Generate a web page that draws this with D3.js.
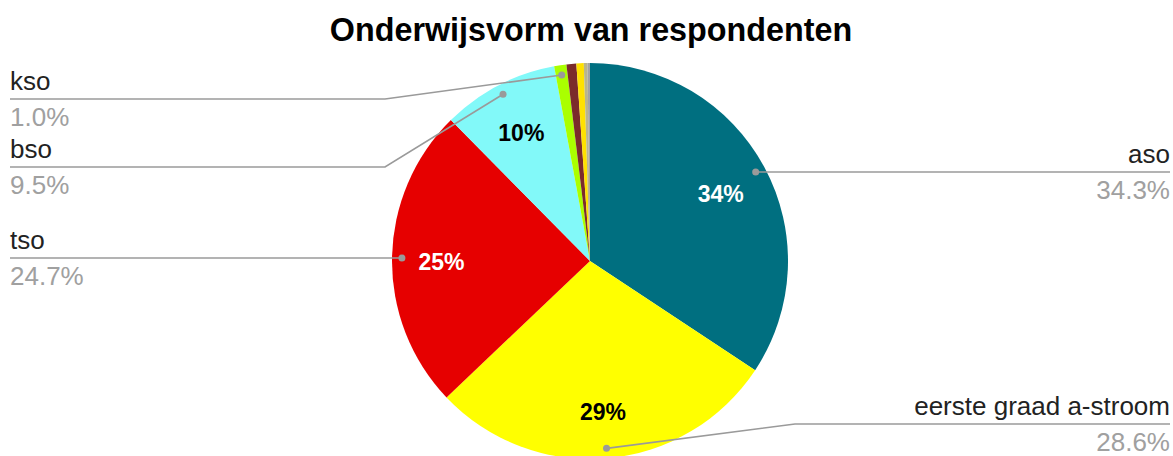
<!DOCTYPE html>
<html>
<head>
<meta charset="utf-8">
<script src="https://cdn.jsdelivr.net/npm/d3@7"></script>
<style>
  html, body { margin: 0; padding: 0; background: #fff; }
  svg { display: block; }
</style>
</head>
<body>
<svg id="chart" width="1173" height="456"></svg>
<script>
// ---- data ----
const title = "Onderwijsvorm van respondenten";
const categories = ["aso", "eerste graad a-stroom", "tso", "bso", "kso", "eerste graad b-stroom", "buso", "deeltijds", "andere"];
const values = [34.3, 28.6, 24.7, 9.5, 1.0, 0.8, 0.6, 0.3, 0.2];
const colors = ["#006f80", "#ffff00", "#e60000", "#82f9f9", "#aaff00", "#7b2b2b", "#ffe100", "#b9b58c", "#a3a3a3"];
const insideLabelColors = ["#ffffff", "#000000", "#ffffff", "#000000"];
const labeledCount = 5;   // slices that get an outside callout
const insideCount = 4;    // slices that get a percentage inside

// ---- layout ----
const W = 1173, H = 456;
const cx = 590, cy = 261, R = 198;
const svg = d3.select("#chart");

svg.append("text")
  .attr("x", 591).attr("y", 41)
  .attr("text-anchor", "middle")
  .attr("font-family", "'Liberation Sans', Arial, sans-serif")
  .attr("font-weight", "bold")
  .attr("font-size", 32.3)
  .attr("fill", "#000")
  .text(title);

const total = d3.sum(values);
const pie = d3.pie().sort(null).value(d => d.v).startAngle(0).endAngle(2 * Math.PI);
const data = categories.map((c, i) => ({ c, v: values[i], i }));
const arcs = pie(data);
const arc = d3.arc().innerRadius(0).outerRadius(R);

const g = svg.append("g").attr("transform", `translate(${cx},${cy})`);
g.selectAll("path.slice")
  .data(arcs)
  .join("path")
  .attr("class", "slice")
  .attr("d", arc)
  .attr("fill", d => colors[d.data.i]);

// inside percentage labels
const inArc = d3.arc().innerRadius(R * 0.75).outerRadius(R * 0.75);
g.selectAll("text.inside")
  .data(arcs.slice(0, insideCount))
  .join("text")
  .attr("class", "inside")
  .attr("transform", d => `translate(${inArc.centroid(d)})`)
  .attr("text-anchor", "middle")
  .attr("dy", "0.5em")
  .attr("font-family", "'Liberation Sans', Arial, sans-serif")
  .attr("font-weight", "bold")
  .attr("font-size", 23)
  .attr("fill", d => insideLabelColors[d.data.i])
  .text(d => Math.round(d.data.v / total * 100) + "%");

// outside callouts
const dotArc = d3.arc().innerRadius(R * 0.95).outerRadius(R * 0.95);
const callouts = arcs.slice(0, labeledCount).map(d => {
  const [x, y] = dotArc.centroid(d);
  return { d, dx: cx + x, dy: cy + y, side: x > 0 ? "right" : "left" };
});
const topBound = 99, bottomBound = 424, gap = 68;
["left", "right"].forEach(side => {
  const list = callouts.filter(c => c.side === side).sort((a, b) => a.dy - b.dy);
  let prev = -Infinity;
  list.forEach(c => {
    c.ly = Math.max(c.dy, topBound, prev + gap);
    prev = c.ly;
  });
  for (let k = list.length - 1; k >= 0; k--) {
    const lim = k === list.length - 1 ? bottomBound : list[k + 1].ly - gap;
    list[k].ly = Math.min(list[k].ly, lim);
  }
});

const leftX = 10, rightX = 1170;
const lineCol = "#9a9a9a";
callouts.forEach(c => {
  const bendX = c.side === "right" ? cx + R + 7 : cx - R - 7;
  const endX = c.side === "right" ? rightX : leftX;
  const pts = [[c.dx, c.dy], [bendX, c.ly], [endX, c.ly]];
  svg.append("path")
    .attr("d", d3.line()(pts))
    .attr("fill", "none")
    .attr("stroke", lineCol)
    .attr("stroke-width", 1.6);
  svg.append("circle")
    .attr("cx", c.dx).attr("cy", c.dy).attr("r", 3.5)
    .attr("fill", lineCol);
  const anchor = c.side === "right" ? "end" : "start";
  svg.append("text")
    .attr("x", endX).attr("y", c.ly - 9)
    .attr("text-anchor", anchor)
    .attr("font-family", "'Liberation Sans', Arial, sans-serif")
    .attr("font-size", 26)
    .attr("fill", "#222222")
    .text(c.d.data.c);
  svg.append("text")
    .attr("x", endX).attr("y", c.ly + 27)
    .attr("text-anchor", anchor)
    .attr("font-family", "'Liberation Sans', Arial, sans-serif")
    .attr("font-size", 26)
    .attr("fill", "#a0a0a0")
    .text((c.d.data.v / total * 100).toFixed(1) + "%");
});
</script>
</body>
</html>
